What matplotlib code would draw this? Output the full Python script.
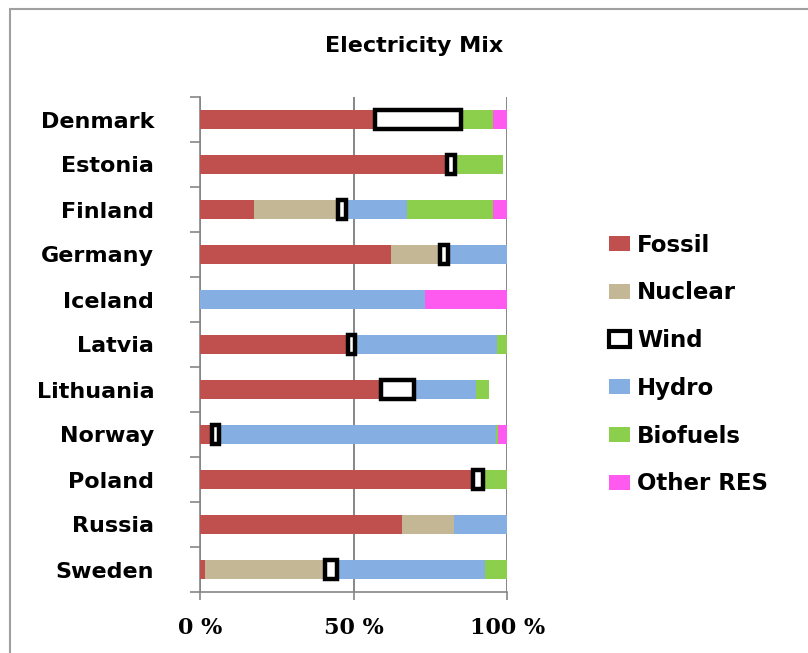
import numpy as np
import matplotlib.pyplot as plt
from matplotlib.patches import Patch, Rectangle

countries = ["Denmark", "Estonia", "Finland", "Germany", "Iceland", "Latvia",
             "Lithuania", "Norway", "Poland", "Russia", "Sweden"]

# shares in % of electricity generation
fossil   = [57.0, 80.5, 17.7, 62.0, 0.0, 48.3, 59.0, 4.0, 89.0, 65.6, 1.6]
nuclear  = [0.0, 0.0, 27.3, 16.0, 0.0, 0.0, 0.0, 0.0, 0.0, 17.0, 39.0]
wind     = [27.8, 2.5, 2.5, 2.7, 0.0, 2.0, 10.5, 2.2, 3.0, 0.0, 4.0]
hydro    = [0.0, 0.0, 20.0, 19.5, 73.2, 46.5, 20.2, 90.0, 0.0, 18.4, 48.0]
biofuels = [10.4, 15.5, 27.7, 0.8, 0.0, 3.2, 4.4, 0.8, 8.0, 0.0, 7.6]
other    = [4.8, 0.0, 5.9, 0.0, 27.0, 0.0, 0.0, 3.1, 0.0, 0.0, 0.0]

series = [("Fossil", fossil), ("Nuclear", nuclear), ("Wind", wind),
          ("Hydro", hydro), ("Biofuels", biofuels), ("Other RES", other)]
colors = {"Fossil": "#C0504D", "Nuclear": "#C4B796", "Wind": "white",
          "Hydro": "#85AEE2", "Biofuels": "#8CCF4D", "Other RES": "#FF5AF0"}

plt.rcParams['font.family'] = ['DejaVu Sans']
plt.rcParams['font.weight'] = 'bold'

fig = plt.figure(figsize=(8.08, 6.53), dpi=100)
# chart area frame (only its top and left edges fall inside the image)
fig.patches.append(Rectangle((10 / 808, -1), 2, 2 - 9 / 653, transform=fig.transFigure,
                             fill=False, edgecolor="#A0A0A0", linewidth=1.5))
ax = fig.add_axes([200 / 808, 61 / 653, 307.3 / 808, 495 / 653])

y = np.arange(len(countries))
left = np.zeros(len(countries))
for name, vals in series:
    vals = np.array(vals)
    if name == "Wind":
        mask = vals > 0
        ax.barh(y[mask], vals[mask], left=left[mask], height=0.42, color="white",
                edgecolor="black", linewidth=3.2, zorder=4)
    else:
        ax.barh(y, vals, left=left, height=0.42, color=colors[name],
                linewidth=0, zorder=3)
    left += vals

ax.set_xlim(0, 100)
ax.set_ylim(len(countries) - 0.5, -0.5)
ax.set_xticks([0, 50, 100])
ax.set_xticklabels(["0 %", "50 %", "100 %"], family="DejaVu Serif", fontsize=16)
ax.set_yticks(y)
ax.set_yticklabels(countries)
ax.set_yticks(np.arange(-0.5, len(countries)), minor=True)
ax.tick_params(axis="y", which="major", length=0, pad=33, labelsize=16)
ax.tick_params(axis="y", which="minor", length=7, color="#868686", width=1.2)
ax.tick_params(axis="x", length=6, color="#868686", width=1.2, pad=12)
ax.xaxis.grid(True, color="#868686", linewidth=1.4, zorder=0)
ax.set_axisbelow(True)
for s in ["top", "right"]:
    ax.spines[s].set_visible(False)
for s in ["left", "bottom"]:
    ax.spines[s].set_color("#868686")
    ax.spines[s].set_linewidth(1.2)

fig.text(414 / 808, 1 - 46 / 653, "Electricity Mix", ha="center", va="center",
         fontsize=16, fontweight="bold")

handles = []
for name, _ in series:
    if name == "Wind":
        handles.append(Patch(facecolor="white", edgecolor="black", linewidth=3))
    else:
        handles.append(Patch(facecolor=colors[name], linewidth=0))
fig.legend(handles, [n for n, _ in series], loc="upper left",
           bbox_to_anchor=(588 / 808, 1 - 213 / 653), frameon=False,
           fontsize=16.5, handlelength=0.95, handleheight=0.65, handletextpad=0.3,
           labelspacing=1.08)

fig.savefig("out.png", dpi=100)
